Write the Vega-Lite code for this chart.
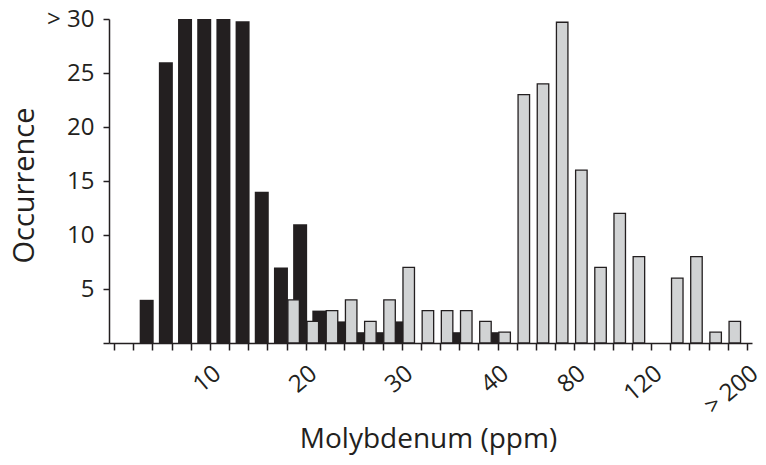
{
  "$schema": "https://vega.github.io/schema/vega-lite/v6.json",
  "autosize": "none",
  "padding": {"left": 109, "top": 19, "right": 14, "bottom": 122},
  "width": 643,
  "height": 324,
  "background": "white",
  "config": {
    "view": {"stroke": null},
    "font": "Open Sans",
    "axis": {"grid": false, "domainColor": "#231f20", "tickColor": "#231f20", "labelColor": "#231f20", "titleColor": "#231f20", "labelFont": "Open Sans", "titleFont": "Open Sans", "titleFontWeight": "normal", "domainWidth": 1.5, "tickWidth": 1.5}
  },
  "data": {
    "values": [
      {"bin": 1, "series": "black", "count": 4},
      {"bin": 2, "series": "black", "count": 26},
      {"bin": 3, "series": "black", "count": 30},
      {"bin": 4, "series": "black", "count": 30},
      {"bin": 5, "series": "black", "count": 30},
      {"bin": 6, "series": "black", "count": 29.8},
      {"bin": 7, "series": "black", "count": 14},
      {"bin": 8, "series": "black", "count": 7},
      {"bin": 9, "series": "black", "count": 11},
      {"bin": 10, "series": "black", "count": 3},
      {"bin": 11, "series": "black", "count": 2},
      {"bin": 12, "series": "black", "count": 1},
      {"bin": 13, "series": "black", "count": 1},
      {"bin": 14, "series": "black", "count": 2},
      {"bin": 17, "series": "black", "count": 1},
      {"bin": 19, "series": "black", "count": 1},
      {"bin": 9, "series": "gray", "count": 4},
      {"bin": 10, "series": "gray", "count": 2},
      {"bin": 11, "series": "gray", "count": 3},
      {"bin": 12, "series": "gray", "count": 4},
      {"bin": 13, "series": "gray", "count": 2},
      {"bin": 14, "series": "gray", "count": 4},
      {"bin": 15, "series": "gray", "count": 7},
      {"bin": 16, "series": "gray", "count": 3},
      {"bin": 17, "series": "gray", "count": 3},
      {"bin": 18, "series": "gray", "count": 3},
      {"bin": 19, "series": "gray", "count": 2},
      {"bin": 20, "series": "gray", "count": 1},
      {"bin": 21, "series": "gray", "count": 23},
      {"bin": 22, "series": "gray", "count": 24},
      {"bin": 23, "series": "gray", "count": 29.7},
      {"bin": 24, "series": "gray", "count": 16},
      {"bin": 25, "series": "gray", "count": 7},
      {"bin": 26, "series": "gray", "count": 12},
      {"bin": 27, "series": "gray", "count": 8},
      {"bin": 29, "series": "gray", "count": 6},
      {"bin": 30, "series": "gray", "count": 8},
      {"bin": 31, "series": "gray", "count": 1},
      {"bin": 32, "series": "gray", "count": 2}
    ]
  },
  "encoding": {
    "x": {
      "field": "bin",
      "type": "quantitative",
      "scale": {"domain": [0, 33], "nice": false, "zero": false},
      "axis": {
        "title": "Molybdenum (ppm)",
        "values": [0,1,2,3,4,5,6,7,8,9,10,11,12,13,14,15,16,17,18,19,20,21,22,23,24,25,26,27,28,29,30,31,32,33],
        "labelExpr": "datum.value == 5 ? '10' : datum.value == 10 ? '20' : datum.value == 15 ? '30' : datum.value == 20 ? '40' : datum.value == 24 ? '80' : datum.value == 28 ? '120' : datum.value == 33 ? '> 200' : ''",
        "labelAngle": -40,
        "labelAlign": "right",
        "labelBaseline": "top",
        "labelPadding": 11,
        "labelFontSize": 24,
        "labelOverlap": false,
        "labelFlush": false,
        "labelBound": false,
        "tickSize": 7,
        "titleFontSize": 28,
        "titleX": 319,
        "titleY": 104,
        "titleBaseline": "alphabetic",
        "titleAlign": "center"
      }
    },
    "y": {
      "field": "count",
      "type": "quantitative",
      "scale": {"domain": [0, 30], "nice": false},
      "axis": {
        "title": "Occurrence",
        "values": [0, 5, 10, 15, 20, 25, 30],
        "labelExpr": "datum.value == 0 ? '' : datum.value == 30 ? '> 30' : datum.label",
        "labelFontSize": 24,
        "labelPadding": 9,
        "labelBaseline": "middle",
        "tickSize": 6,
        "titleFontSize": 29,
        "titleAngle": -90,
        "titleX": -76,
        "titleY": 166,
        "titleAlign": "center",
        "titleBaseline": "alphabetic"
      }
    }
  },
  "layer": [
    {
      "transform": [{"filter": "datum.series == 'black'"}],
      "mark": {"type": "bar", "width": 14, "xOffset": 13.5, "color": "#231f20"}
    },
    {
      "transform": [{"filter": "datum.series == 'gray'"}],
      "mark": {"type": "bar", "width": 11.5, "xOffset": 7, "fill": "#d1d3d4", "stroke": "#231f20", "strokeWidth": 1.3}
    }
  ]
}
